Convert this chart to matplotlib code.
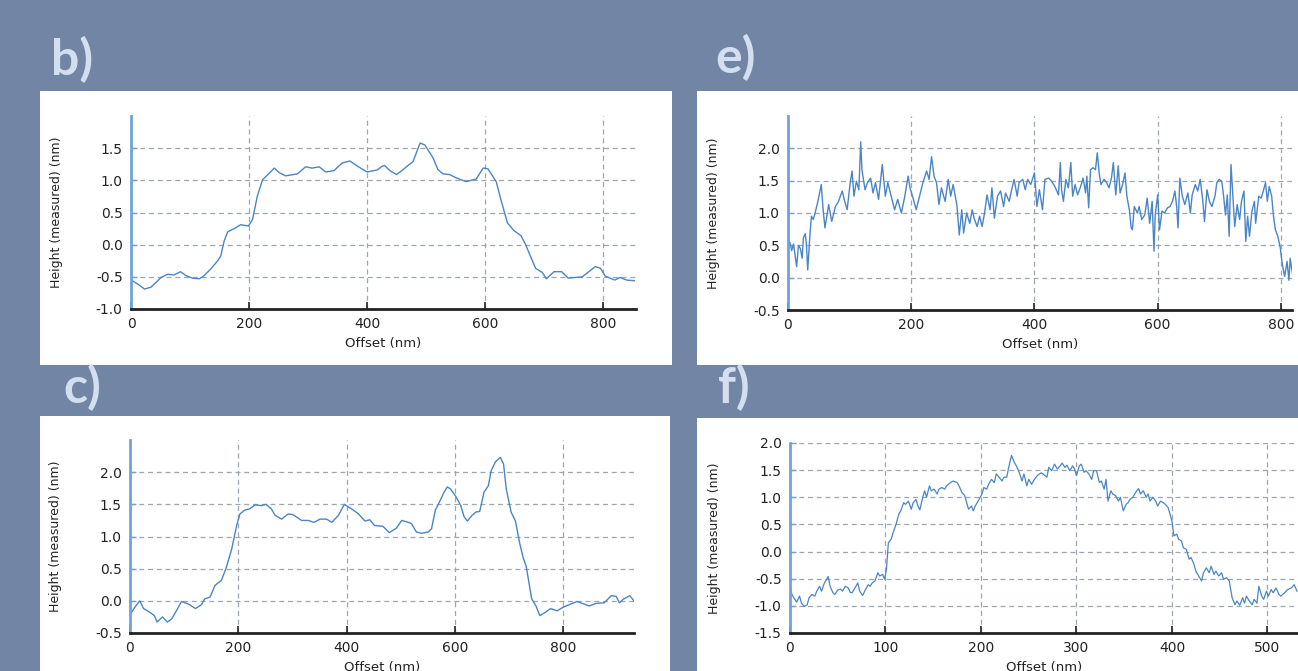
import numpy as np
import matplotlib
matplotlib.use("Agg")
import matplotlib.pyplot as plt
from matplotlib.patches import Rectangle
from matplotlib.ticker import FormatStrFormatter

plt.rcParams['axes.unicode_minus'] = False
plt.rcParams['font.family'] = ['DejaVu Sans']

# DATA
b_x = [0, 11, 23, 34, 42, 51, 62, 73, 84, 93, 104, 116, 124, 135, 147, 152, 158, 164, 175, 186,
       199, 206, 214, 223, 232, 243, 251, 262, 282, 296, 307, 319, 330, 344, 358, 371, 384, 400,
       417, 426, 430, 439, 450, 459, 468, 478, 490, 498, 512, 520, 529, 540, 551, 568, 585, 597,
       605, 619, 627, 638, 649, 661, 669, 678, 686, 697, 704, 717, 730, 741, 765, 776, 787, 796,
       804, 820, 829, 840, 853]
b_y = [-0.55, -0.61, -0.69, -0.66, -0.59, -0.51, -0.46, -0.47, -0.42, -0.48, -0.52, -0.53, -0.48,
       -0.38, -0.25, -0.18, 0.06, 0.20, 0.25, 0.31, 0.29, 0.39, 0.75, 1.01, 1.09, 1.19, 1.12, 1.07,
       1.10, 1.21, 1.19, 1.21, 1.13, 1.15, 1.27, 1.30, 1.22, 1.13, 1.16, 1.22, 1.23, 1.15, 1.09,
       1.15, 1.22, 1.29, 1.58, 1.55, 1.35, 1.17, 1.10, 1.09, 1.04, 0.98, 1.02, 1.19, 1.18, 0.98,
       0.70, 0.34, 0.22, 0.14, 0.00, -0.20, -0.37, -0.43, -0.53, -0.42, -0.42, -0.52, -0.50, -0.42,
       -0.34, -0.37, -0.49, -0.55, -0.51, -0.55, -0.56]

c_x = [2, 9, 18, 25, 37, 45, 50, 60, 69, 77, 86, 95, 108, 121, 132, 138, 148, 157, 169, 178, 188,
       197, 203, 212, 221, 231, 243, 251, 261, 268, 280, 292, 301, 317, 329, 340, 351, 363, 373,
       385, 396, 409, 421, 434, 443, 452, 467, 479, 492, 502, 514, 520, 529, 539, 551, 557, 564,
       573, 579, 586, 592, 602, 611, 617, 623, 632, 639, 646, 654, 662, 667, 675, 684, 690, 695,
       704, 712, 720, 726, 732, 742, 750, 757, 767, 777, 789, 800, 814, 826, 839, 848, 861, 876,
       889, 898, 904, 912, 923, 932]
c_y = [-0.19, -0.10, 0.00, -0.12, -0.18, -0.23, -0.33, -0.25, -0.33, -0.28, -0.15, -0.01, -0.05,
       -0.12, -0.06, 0.03, 0.06, 0.24, 0.32, 0.52, 0.81, 1.17, 1.35, 1.41, 1.43, 1.49, 1.48, 1.50,
       1.43, 1.33, 1.27, 1.35, 1.34, 1.25, 1.25, 1.22, 1.27, 1.27, 1.22, 1.33, 1.50, 1.43, 1.36,
       1.24, 1.26, 1.17, 1.16, 1.06, 1.13, 1.25, 1.22, 1.20, 1.07, 1.05, 1.07, 1.12, 1.41, 1.56,
       1.67, 1.77, 1.74, 1.62, 1.48, 1.31, 1.24, 1.33, 1.38, 1.39, 1.69, 1.79, 2.02, 2.16, 2.23,
       2.13, 1.74, 1.38, 1.24, 0.89, 0.68, 0.53, 0.03, -0.08, -0.23, -0.18, -0.12, -0.155, -0.10,
       -0.05, -0.01, -0.05, -0.08, -0.04, -0.03, 0.08, 0.07, -0.03, 0.03, 0.08, -0.01]

e_x = [0, 3, 6, 9, 11, 14, 17, 20, 23, 25, 28, 30, 32, 36, 38, 41, 44, 49, 54, 57, 60, 66, 71, 77,
       82, 88, 92, 96, 101, 104, 107, 111, 115, 118, 120, 125, 129, 134, 138, 142, 147, 151, 153,
       158, 162, 167, 173, 178, 184, 189, 195, 198, 203, 208, 214, 219, 225, 229, 233, 237, 241,
       245, 249, 255, 260, 264, 268, 274, 278, 282, 285, 290, 295, 299, 302, 307, 311, 315, 319,
       323, 328, 331, 335, 340, 345, 350, 353, 359, 363, 367, 372, 375, 381, 385, 389, 394, 400,
       404, 408, 413, 417, 423, 428, 433, 439, 442, 444, 447, 451, 455, 459, 462, 466, 470, 475,
       479, 483, 485, 488, 491, 495, 499, 502, 505, 508, 513, 517, 521, 525, 528, 532, 536, 539,
       543, 547, 550, 554, 557, 559, 562, 567, 570, 574, 579, 583, 587, 591, 594, 596, 600, 603,
       607, 611, 616, 620, 624, 628, 631, 633, 636, 640, 644, 649, 653, 656, 661, 665, 669, 673,
       676, 680, 684, 688, 693, 696, 700, 704, 707, 710, 713, 716, 719, 722, 725, 729, 733, 736,
       740, 743, 746, 749, 753, 757, 759, 764, 768, 772, 775, 778, 781, 785, 788, 791, 795, 799,
       802, 806, 810, 813, 815, 819, 821]
e_y = [0.50, 0.55, 0.42, 0.52, 0.38, 0.17, 0.50, 0.45, 0.30, 0.62, 0.68, 0.50, 0.12, 0.72, 0.95,
       0.90, 1.00, 1.20, 1.44, 1.05, 0.77, 1.13, 0.87, 1.10, 1.18, 1.34, 1.18, 1.05, 1.47, 1.65,
       1.26, 1.49, 1.36, 2.10, 1.67, 1.36, 1.47, 1.54, 1.31, 1.47, 1.21, 1.57, 1.75, 1.26, 1.47,
       1.28, 1.05, 1.21, 1.00, 1.23, 1.57, 1.39, 1.23, 1.05, 1.28, 1.47, 1.65, 1.52, 1.87, 1.57,
       1.47, 1.13, 1.39, 1.18, 1.52, 1.26, 1.44, 1.13, 0.66, 1.05, 0.69, 1.00, 0.84, 1.05, 0.92,
       0.79, 0.95, 0.79, 1.00, 1.28, 1.05, 1.39, 0.92, 1.26, 1.34, 1.10, 1.31, 1.18, 1.36, 1.52,
       1.26, 1.47, 1.52, 1.36, 1.52, 1.44, 1.62, 1.10, 1.36, 1.05, 1.52, 1.54, 1.49, 1.41, 1.28,
       1.78, 1.36, 1.18, 1.52, 1.39, 1.78, 1.26, 1.44, 1.28, 1.41, 1.54, 1.31, 1.57, 1.08, 1.67,
       1.70, 1.67, 1.93, 1.62, 1.44, 1.52, 1.47, 1.39, 1.54, 1.78, 1.28, 1.73, 1.31, 1.44, 1.62,
       1.26, 1.05, 0.77, 0.74, 1.10, 1.00, 1.10, 0.90, 0.97, 1.23, 0.84, 1.18, 0.41, 0.97, 1.28,
       0.74, 1.03, 1.00, 1.08, 1.10, 1.18, 1.34, 1.08, 0.77, 1.54, 1.26, 1.13, 1.31, 1.00, 1.28,
       1.44, 1.34, 1.52, 1.21, 0.87, 1.36, 1.18, 1.10, 1.26, 1.47, 1.52, 1.49, 1.26, 0.97, 1.28,
       0.64, 1.75, 1.26, 0.79, 1.13, 0.90, 1.18, 1.34, 0.56, 0.95, 0.64, 1.03, 1.18, 0.84, 1.26,
       1.23, 1.36, 1.47, 1.18, 1.41, 1.26, 0.95, 0.74, 0.64, 0.46, 0.22, 0.02, 0.25, -0.04, 0.30,
       0.04, 0.07]

f_x = [0, 2, 5, 7, 10, 12, 15, 18, 20, 23, 26, 28, 31, 33, 36, 40, 42, 45, 47, 50, 53, 55, 58, 61,
       63, 65, 68, 71, 73, 76, 79, 82, 84, 86, 89, 92, 94, 97, 99, 101, 103, 106, 108, 111, 114,
       116, 119, 121, 124, 127, 129, 132, 134, 136, 139, 141, 143, 146, 148, 151, 154, 156, 159,
       162, 164, 168, 171, 175, 177, 180, 183, 185, 187, 190, 192, 194, 197, 201, 203, 206, 208,
       211, 214, 216, 219, 222, 224, 227, 229, 232, 235, 237, 240, 243, 245, 248, 250, 253, 256,
       259, 263, 265, 269, 271, 274, 277, 280, 283, 285, 288, 290, 293, 296, 298, 300, 303, 305,
       308, 310, 313, 316, 318, 321, 324, 326, 329, 331, 333, 336, 338, 341, 344, 346, 349, 352,
       354, 356, 359, 362, 365, 367, 370, 373, 375, 377, 380, 383, 385, 388, 391, 393, 396, 398,
       400, 402, 405, 407, 410, 412, 415, 418, 420, 423, 425, 428, 431, 433, 436, 439, 441, 444,
       446, 449, 452, 454, 457, 460, 461, 463, 466, 468, 471, 474, 476, 478, 481, 484, 486, 489,
       491, 494, 496, 499, 501, 504, 506, 509, 512, 514, 518, 521, 525, 528, 531]
f_y = [-0.64, -0.79, -0.88, -0.93, -0.82, -0.95, -1.01, -0.98, -0.85, -0.79, -0.82, -0.73, -0.64,
       -0.73, -0.58, -0.46, -0.64, -0.76, -0.79, -0.71, -0.69, -0.73, -0.64, -0.67, -0.75, -0.76,
       -0.67, -0.58, -0.73, -0.81, -0.70, -0.61, -0.64, -0.58, -0.54, -0.39, -0.45, -0.42, -0.51,
       -0.33, 0.16, 0.23, 0.35, 0.50, 0.69, 0.75, 0.90, 0.87, 0.93, 0.78, 0.90, 0.96, 0.84, 0.77,
       1.00, 1.12, 1.00, 1.21, 1.12, 1.15, 1.06, 1.15, 1.18, 1.15, 1.21, 1.27, 1.30, 1.27, 1.21,
       1.09, 1.03, 0.90, 0.78, 0.84, 0.75, 0.84, 0.93, 1.06, 1.18, 1.15, 1.24, 1.33, 1.27, 1.43,
       1.37, 1.30, 1.37, 1.37, 1.55, 1.77, 1.64, 1.58, 1.46, 1.30, 1.43, 1.21, 1.33, 1.24, 1.33,
       1.40, 1.45, 1.43, 1.37, 1.55, 1.49, 1.61, 1.52, 1.58, 1.63, 1.55, 1.59, 1.49, 1.58, 1.52,
       1.40, 1.58, 1.61, 1.46, 1.49, 1.43, 1.33, 1.49, 1.49, 1.27, 1.30, 1.15, 1.33, 0.93, 1.12,
       1.06, 1.03, 0.93, 1.00, 0.75, 0.87, 0.90, 0.96, 1.00, 1.09, 1.16, 1.06, 1.12, 1.00, 1.06,
       0.93, 1.00, 0.93, 0.84, 0.93, 0.90, 0.87, 0.81, 0.69, 0.56, 0.29, 0.32, 0.23, 0.19, 0.07,
       0.04, -0.14, -0.11, -0.23, -0.36, -0.45, -0.54, -0.39, -0.30, -0.39, -0.27, -0.42, -0.36,
       -0.45, -0.39, -0.51, -0.48, -0.54, -0.64, -0.85, -0.98, -0.91, -0.99, -0.85, -0.95, -0.82,
       -0.91, -0.98, -0.88, -0.95, -0.64, -0.82, -0.88, -0.73, -0.82, -0.70, -0.76, -0.67, -0.79,
       -0.82, -0.76, -0.70, -0.67, -0.61, -0.73]

# styling
W, H = 1298, 671
BG = '#7285a5'
LETTER = '#d3def0'
LINE = '#4a85c5'
GRID = '#9ea6b0'


def px_rect(x0, y0, x1, y1):
    # pixel box (top-left origin) -> figure fraction [left, bottom, w, h]
    return [x0 / W, (H - y1) / H, (x1 - x0) / W, (y1 - y0) / H]


def draw_panel(fig, box, axbox, x, y, xlim, ylim, xticks, yticks, letter, letter_xy, lw):
    l, b, w, h = px_rect(*box)
    fig.patches.append(Rectangle((l, b), w, h, transform=fig.transFigure,
                                 facecolor='white', edgecolor='none', zorder=-5))
    fig.text(letter_xy[0] / W, 1 - letter_xy[1] / H, letter, color=LETTER,
             fontsize=36, fontweight='bold', family='Lato', ha='left', va='center')

    ax = fig.add_axes(px_rect(*axbox))
    ax.set_zorder(2)
    ax.set_facecolor('white')
    ax.plot(x, y, color=LINE, lw=lw)
    ax.set_xlim(*xlim)
    ax.set_ylim(*ylim)
    ax.set_xticks(xticks)
    ax.set_yticks(yticks)
    ax.yaxis.set_major_formatter(FormatStrFormatter('%.1f'))
    ax.grid(True, color=GRID, lw=0.9, linestyle=(0, (4, 3)))
    ax.set_axisbelow(True)
    for s in ['top', 'right']:
        ax.spines[s].set_visible(False)
    ax.spines['left'].set_color('#6fa3da')
    ax.spines['left'].set_linewidth(2)
    ax.spines['bottom'].set_color('#222222')
    ax.spines['bottom'].set_linewidth(2)
    ax.tick_params(axis='x', direction='in', length=5, width=1.2, color='#222222',
                   labelsize=10, labelcolor='#222222', pad=6)
    ax.tick_params(axis='y', direction='in', length=4, width=1, color='#6fa3da',
                   labelsize=10, labelcolor='#222222', pad=6)
    ax.set_xlabel('Offset (nm)', fontsize=9.5, color='#222222')
    ax.set_ylabel('Height (measured) (nm)', fontsize=9, color='#222222')
    ax.xaxis.set_label_coords(0.5, -0.145)
    ax.yaxis.set_label_coords(-0.135, 0.5)
    return ax


fig = plt.figure(figsize=(W / 100, H / 100), dpi=100)
fig.patch.set_facecolor(BG)

# b)
draw_panel(fig, (40, 91, 672, 365), (131, 116, 636, 309), b_x, b_y, (0, 856), (-1.0, 2.0),
           [0, 200, 400, 600, 800], [-1.0, -0.5, 0.0, 0.5, 1.0, 1.5], 'b)', (51, 60), 1.0)
# e)
draw_panel(fig, (697, 91, 1298, 365), (788, 116, 1292, 310), e_x, e_y, (0, 818), (-0.5, 2.5),
           [0, 200, 400, 600, 800], [-0.5, 0.0, 0.5, 1.0, 1.5, 2.0], 'e)', (715, 58), 1.0)
# c)
draw_panel(fig, (40, 416, 670, 671), (130, 440, 634, 633), c_x, c_y, (0, 931), (-0.5, 2.5),
           [0, 200, 400, 600, 800], [-0.5, 0.0, 0.5, 1.0, 1.5, 2.0], 'c)', (63, 388), 1.0)
# f)
draw_panel(fig, (697, 418, 1298, 671), (790, 443, 1298, 633), f_x, f_y, (0, 532), (-1.5, 2.0),
           [0, 100, 200, 300, 400, 500], [-1.5, -1.0, -0.5, 0.0, 0.5, 1.0, 1.5, 2.0], 'f)',
           (718, 388), 0.9)

fig.savefig('out.png', dpi=100, facecolor=BG)
